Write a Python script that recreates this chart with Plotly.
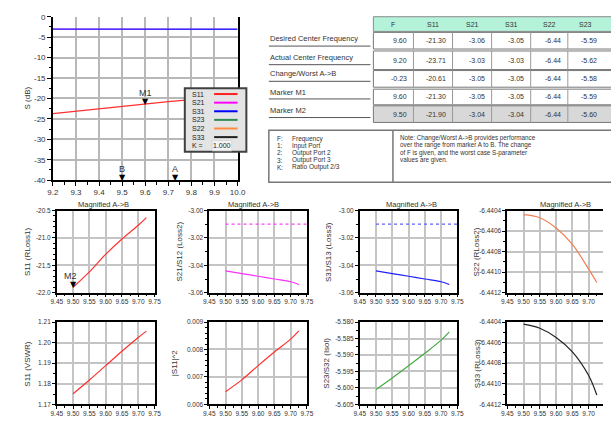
import plotly.graph_objects as go

W, H = 611, 423
FONT = "Liberation Sans, Arial, sans-serif"
TXT = "#333333"

# ---------------- data ----------------
main_freq = [9.2, 9.3, 9.4, 9.5, 9.6, 9.7, 9.8, 9.9, 10.0]
main_s11 = [-23.71, -23.10, -22.50, -21.90, -21.30, -20.80, -20.30, -19.80, -19.30]
main_s21 = [-3.03, -3.03, -3.04, -3.04, -3.05, -3.05, -3.06, -3.06, -3.07]
main_s31 = [-3.03, -3.03, -3.04, -3.04, -3.05, -3.05, -3.06, -3.06, -3.07]
main_xtickvals = [9.2, 9.3, 9.4, 9.5, 9.6, 9.7, 9.8, 9.9, 10.0]
main_xticktext = ["9.2", "9.3", "9.4", "9.5", "9.6", "9.7", "9.8", "9.9", "10.0"]
main_ytickvals = [0, -5, -10, -15, -20, -25, -30, -35, -40]
main_yticktext = ["0", "-5", "-10", "-15", "-20", "-25", "-30", "-35", "-40"]

marker_m1 = [9.60, -21.30]
marker_m2 = [9.50, -21.90]
marker_b = 9.50
marker_a = 9.73
k_ratio = "1.000"

legend_names = ["S11", "S21", "S31", "S23", "S22", "S33"]
legend_colors = ["#ff2020", "#ff00ff", "#0000ff", "#2e8b57", "#ff8c40", "#222222"]

mag_freq = [9.50, 9.55, 9.60, 9.65, 9.70, 9.725]
mag_s11 = [-21.90, -21.62, -21.30, -21.02, -20.77, -20.63]
mag_s21 = [-3.044, -3.046, -3.048, -3.050, -3.052, -3.054]
mag_s31 = [-3.044, -3.046, -3.048, -3.050, -3.052, -3.054]
ref_freq = [9.50, 9.75]
ref_s21 = [-3.01, -3.01]
ref_s31 = [-3.01, -3.01]
mag_s22 = [-6.44044, -6.44047, -6.44057, -6.44073, -6.44097, -6.44110]
mag_vswr = [1.1751, 1.1818, 1.1888, 1.1958, 1.2025, 1.2056]
mag_s11sq = [0.00646, 0.00689, 0.00741, 0.00791, 0.00838, 0.00868]
mag_s23 = [-5.6005, -5.5970, -5.5933, -5.5895, -5.5855, -5.5830]
mag_s33 = [-6.44042, -6.44046, -6.44055, -6.44069, -6.44092, -6.44111]

mag_xtickvals = [9.45, 9.50, 9.55, 9.60, 9.65, 9.70, 9.75]
mag_xticktext = ["9.45", "9.50", "9.55", "9.60", "9.65", "9.70", "9.75"]

table_cols = ["F", "S11", "S21", "S31", "S22", "S23"]
table_rows = ["Desired Center Frequency", "Actual Center Frequency",
              "Change/Worst A->B", "Marker M1", "Marker M2"]
table_vals = [
    ["9.60", "-21.30", "-3.06", "-3.05", "-6.44", "-5.59"],
    ["9.20", "-23.71", "-3.03", "-3.03", "-6.44", "-5.62"],
    ["-0.23", "-20.61", "-3.05", "-3.05", "-6.44", "-5.58"],
    ["9.60", "-21.30", "-3.05", "-3.05", "-6.44", "-5.59"],
    ["9.50", "-21.90", "-3.04", "-3.04", "-6.44", "-5.60"],
]
key_items = [("F:", "Frequency"), ("1:", "Input Port"), ("2:", "Output Port 2"),
             ("3:", "Output Port 3"), ("K:", "Ratio Output 2/3")]
note_lines = ["Note: Change/Worst A->B provides performance",
              "over the range from marker A to B. The change",
              "of F is given, and the worst case S-parameter",
              "values are given."]

# ---------------- helpers ----------------
def fx(p):
    return p / W

def fy(p):
    return 1 - p / H

shapes = []
annots = []

def rect(x0, y0, x1, y1, fill="rgba(0,0,0,0)", line="#777", lw=1, layer="above"):
    shapes.append(dict(type="rect", xref="paper", yref="paper",
                       x0=fx(x0), x1=fx(x1), y0=fy(y1), y1=fy(y0),
                       fillcolor=fill, line=dict(color=line, width=lw), layer=layer))

def hline(x0, x1, y, color="#555", lw=1):
    shapes.append(dict(type="line", xref="paper", yref="paper",
                       x0=fx(x0), x1=fx(x1), y0=fy(y), y1=fy(y),
                       line=dict(color=color, width=lw)))

def vline(x, y0, y1, color="#777", lw=1):
    shapes.append(dict(type="line", xref="paper", yref="paper",
                       x0=fx(x), x1=fx(x), y0=fy(y0), y1=fy(y1),
                       line=dict(color=color, width=lw)))

def text(x, y, s, size=7.5, anchor="left", color=TXT, angle=0, family=FONT):
    annots.append(dict(xref="paper", yref="paper", x=fx(x), y=fy(y), text=s,
                       showarrow=False, xanchor=anchor, yanchor="middle",
                       textangle=angle, borderpad=0,
                       font=dict(size=size, color=color, family=family)))

fig = go.Figure()

# ---------------- main chart ----------------
fig.add_trace(go.Scatter(x=main_freq, y=main_s21, mode="lines",
                         line=dict(color="#ff00ff", width=1), xaxis="x", yaxis="y"))
fig.add_trace(go.Scatter(x=main_freq, y=main_s31, mode="lines",
                         line=dict(color="#2a2aff", width=1.4), xaxis="x", yaxis="y"))
fig.add_trace(go.Scatter(x=main_freq, y=main_s11, mode="lines",
                         line=dict(color="#ff3030", width=1.2), xaxis="x", yaxis="y"))

grid_main = dict(showgrid=True, gridcolor="#b8b8b8", gridwidth=1.5, zeroline=False,
                 showline=True, linecolor="black", linewidth=1.5,
                 ticks="outside", ticklen=4, tickcolor="black",
                 tickfont=dict(size=8, color=TXT, family=FONT))
layout = dict(
    xaxis=dict(domain=[fx(48), fx(237)], range=[9.2, 10.0], anchor="y",
               tickvals=main_xtickvals, ticktext=main_xticktext, ticklabelstandoff=-1,
               minor=dict(dtick=0.05, tick0=9.2, ticks="outside", ticklen=3, tickcolor="black", showgrid=False),
               **grid_main),
    yaxis=dict(domain=[fy(180), fy(13)], range=[-40, 0], anchor="x", mirror=True,
               tickvals=main_ytickvals, ticktext=main_yticktext,
               minor=dict(dtick=2.5, tick0=0, ticks="outside", ticklen=2, tickcolor="black", showgrid=False),
               **grid_main),
)
text(22, 96, "S (dB)", size=8, anchor="center", angle=-90)

# markers
def tri(xv, yv, xa, ya, label, size=8, lshift=0):
    annots.append(dict(xref=xa, yref=ya, x=xv, y=yv, text="▼", showarrow=False,
                       xanchor="center", yanchor="bottom", yshift=-4,
                       font=dict(size=size, color="black", family="DejaVu Sans")))
    annots.append(dict(xref=xa, yref=ya, x=xv, y=yv, text=label, showarrow=False,
                       xanchor="center", yanchor="bottom", yshift=4, xshift=lshift,
                       font=dict(size=9, color=TXT, family=FONT)))

tri(marker_m1[0], marker_m1[1], "x", "y", "M1")
tri(marker_b, -40, "x", "y", "B")
tri(marker_a, -40, "x", "y", "A")

# legend box in main chart
rect(183, 86, 246, 151, fill="#e4e4e4", line="#404040", lw=2)
leg_y = [92, 100.8, 109.6, 118.4, 127.2, 136]
for nm, col, yy in zip(legend_names, legend_colors, leg_y):
    text(189, yy, nm, size=7, anchor="left", color="#222")
    hline(213, 237, yy, color=col, lw=2)
text(189, 144.8, "K =", size=7, anchor="left", color="#222")
rect(211, 139.5, 231, 150, fill="#f4f4f4", line="#d8d8d8", lw=1)
text(221, 144.8, k_ratio, size=7, anchor="center", color="#222")

# ---------------- magnified panels ----------------
col_x = [(52, 152), (208, 308), (362, 462), (513, 611)]
row_y = [(211, 295), (325, 409)]

panels = [
    dict(title="S11 (RLoss1)", tx=22, traces=[(mag_freq, mag_s11, "#ff3030", "solid")],
         yt=[-20.5, -21.0, -21.5, -22.0], ytt=["-20.5", "-21.0", "-21.5", "-22.0"],
         yr=[-22.0, -20.5], minor=0.1),
    dict(title="S21/S12 (Loss2)", tx=178,
         traces=[(ref_freq, ref_s21, "#ff40ff", "dot"), (mag_freq, mag_s21, "#ff30ff", "solid")],
         yt=[-3.00, -3.02, -3.04, -3.06], ytt=["-3.00", "-3.02", "-3.04", "-3.06"],
         yr=[-3.06, -3.00], minor=0.01),
    dict(title="S31/S13 (Loss3)", tx=330,
         traces=[(ref_freq, ref_s31, "#6060ff", "dot"), (mag_freq, mag_s31, "#2020ff", "solid")],
         yt=[-3.00, -3.02, -3.04, -3.06], ytt=["-3.00", "-3.02", "-3.04", "-3.06"],
         yr=[-3.06, -3.00], minor=0.01),
    dict(title="S22 (RLoss2)", tx=482, traces=[(mag_freq, mag_s22, "#f08050", "solid")],
         yt=[-6.4404, -6.4406, -6.4408, -6.4410, -6.4412],
         ytt=["-6.4404", "-6.4406", "-6.4408", "-6.4410", "-6.4412"],
         yr=[-6.4412, -6.4404], minor=0.0001),
    dict(title="S11 (VSWR)", tx=22, traces=[(mag_freq, mag_vswr, "#ff3030", "solid")],
         yt=[1.17, 1.18, 1.19, 1.20, 1.21], ytt=["1.17", "1.18", "1.19", "1.20", "1.21"],
         yr=[1.17, 1.21], minor=0.005),
    dict(title="|S11|^2", tx=172, traces=[(mag_freq, mag_s11sq, "#ff3030", "solid")],
         yt=[0.006, 0.007, 0.008, 0.009], ytt=["0.006", "0.007", "0.008", "0.009"],
         yr=[0.006, 0.009], minor=0.0002),
    dict(title="S23/S32 (Isol)", tx=328, traces=[(mag_freq, mag_s23, "#44aa44", "solid")],
         yt=[-5.580, -5.585, -5.590, -5.595, -5.600, -5.605],
         ytt=["-5.580", "-5.585", "-5.590", "-5.595", "-5.600", "-5.605"],
         yr=[-5.605, -5.580], minor=0.0025),
    dict(title="S33 (RLoss3)", tx=482, traces=[(mag_freq, mag_s33, "#222222", "solid")],
         yt=[-6.4404, -6.4406, -6.4408, -6.4410, -6.4412],
         ytt=["-6.4404", "-6.4406", "-6.4408", "-6.4410", "-6.4412"],
         yr=[-6.4412, -6.4404], minor=0.0001),
]

title_x = [100, 253, 415, 573]
for i, p in enumerate(panels):
    r, c = divmod(i, 4)
    n = i + 2
    xa, ya = f"x{n}", f"y{n}"
    for (xs, ys, col, dash) in p["traces"]:
        fig.add_trace(go.Scatter(x=xs, y=ys, mode="lines",
                                 line=dict(color=col, width=1.2, dash=dash,
                                           shape="spline", smoothing=1.0),
                                 xaxis=xa, yaxis=ya))
    x0, x1 = col_x[c]
    y0, y1 = row_y[r]
    xr_hi = 9.45 + 0.3 * (x1 - x0) / 100.0
    common = dict(showgrid=True, gridcolor="#c4c4c4", gridwidth=2, zeroline=False,
                  showline=True, linecolor="black", linewidth=1.5,
                  ticks="outside", ticklen=3, tickcolor="black",
                  tickfont=dict(size=6.5, color=TXT, family=FONT))
    layout[f"xaxis{n}"] = dict(domain=[fx(x0), fx(x1)], range=[9.45, xr_hi], anchor=ya,
                               mirror=True, tickvals=mag_xtickvals, ticktext=mag_xticktext,
                               ticklabelstandoff=-1,
                               minor=dict(dtick=0.025, tick0=9.45, ticks="outside", ticklen=2,
                                          tickcolor="black", showgrid=False),
                               **common)
    layout[f"yaxis{n}"] = dict(domain=[fy(y1), fy(y0)], range=p["yr"], anchor=xa,
                               mirror=(c != 3), tickvals=p["yt"], ticktext=p["ytt"],
                               minor=dict(dtick=p["minor"], tick0=p["yr"][0], ticks="outside",
                                          ticklen=2, tickcolor="black", showgrid=False),
                               **common)
    text(p["tx"], (y0 + y1) / 2, p["title"], size=8, anchor="center", angle=-90)
    if r == 0:
        text(title_x[c], 205, "Magnified A-&gt;B", size=7.5, anchor="center")

tri(marker_m2[0], marker_m2[1], "x2", "y2", "M2", size=8, lshift=-3)

# ---------------- table ----------------
col_edges = [376, 417, 457, 497, 537, 575, 640]
rect(376, 13, 640, 28, fill="#b4f2da", line="#8a8a8a", lw=1)
for j, h in enumerate(table_cols):
    text((col_edges[j] + col_edges[j + 1]) / 2 if j < 5 else 593, 20.5, h, size=7, anchor="center")

row_top = [29, 48, 68, 87, 104]
row_bot = [46, 67, 85, 103, 121]
row_lab_y = [35, 55, 71, 90, 109]
row_ul_y = [43, 62, 79, 97, 116]
row_val_y = [37.5, 57.5, 76.5, 95, 112.5]
for i, lab in enumerate(table_rows):
    fill = "#d8d8d8" if i == 4 else "white"
    rect(376, row_top[i], 640, row_bot[i], fill=fill, line="#777", lw=1)
    for e in col_edges[1:6]:
        vline(e, row_top[i], row_bot[i], color="#999", lw=1)
    for j, v in enumerate(table_vals[i]):
        right = col_edges[j + 1] - 6 if j < 5 else 606
        text(right, row_val_y[i], v, size=7, anchor="right")
    text(269, row_lab_y[i], lab.replace(">", "&gt;"), size=7.5, anchor="left")
    hline(269, 373, row_ul_y[i], color="#555", lw=1)

# note box
rect(269, 129, 640, 182, fill="white", line="#777", lw=1.5)
vline(396, 129, 182, color="#777", lw=1.5)
key_y = [137.5, 144.8, 152.1, 159.4, 166.7]
for (k, d), yy in zip(key_items, key_y):
    text(276, yy, k, size=6.5, anchor="left")
    text(292, yy, d, size=6.5, anchor="left")
note_y = [137, 144.5, 152, 159.5]
for ln, yy in zip(note_lines, note_y):
    text(402, yy, ln.replace(">", "&gt;"), size=6.3, anchor="left")

layout.update(dict(
    width=W, height=H, margin=dict(l=0, r=0, t=0, b=0),
    paper_bgcolor="white", plot_bgcolor="white", showlegend=False,
    shapes=shapes, annotations=annots, font=dict(family=FONT, color=TXT),
))
fig.update_layout(**layout)
fig.write_html("out.html", config={"displayModeBar": False},
               post_script="document.body.style.margin='0px';document.body.style.overflow='hidden';")
